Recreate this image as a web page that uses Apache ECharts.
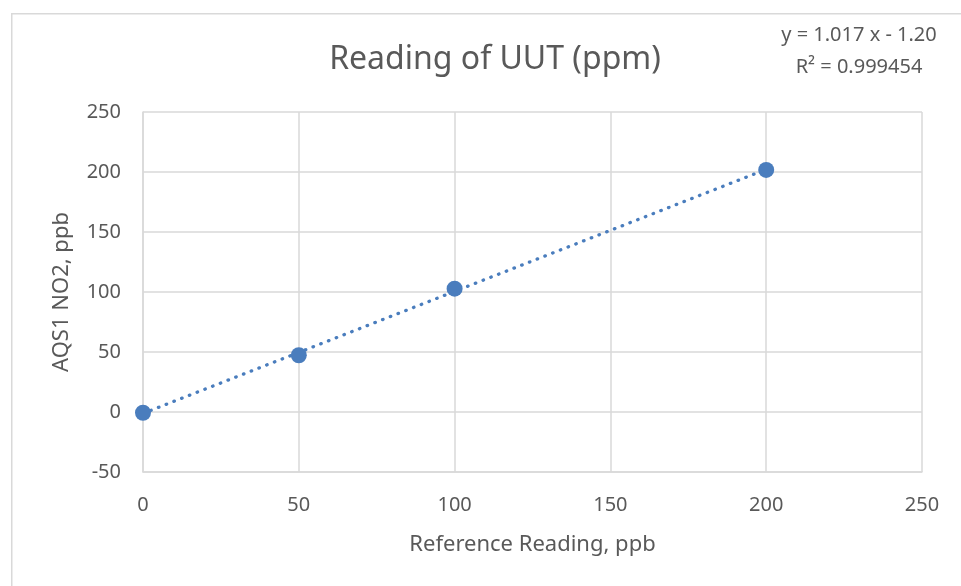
<!DOCTYPE html>
<html>
<head>
<meta charset="utf-8">
<script src="https://cdn.jsdelivr.net/npm/echarts@6/dist/echarts.min.js"></script>
<style>
html,body{margin:0;padding:0;background:#fff;}
#chart{width:961px;height:586px;}
</style>
</head>
<body>
<div id="chart"></div>
<script>
// ---- data ----
const referenceReading = [0, 50, 100, 200];      // x, ppb
const uutReading = [-0.6, 47.3, 102.8, 201.7];  // y, ppb
const trendSlope = 1.017;
const trendIntercept = -1.20;
const trendXRange = [0, 200];
const trendLabel = ['y = 1.017 x - 1.20', 'R² = 0.999454'];
const titleText = 'Reading of UUT (ppm)';
const xAxisName = 'Reference Reading, ppb';
const yAxisName = 'AQS1 NO2, ppb';

const FONT = "'Noto Sans', 'Open Sans', sans-serif";
const TEXT = '#595959';
const GRID = '#d9d9d9';
const BLUE = '#4a7dbd';

const points = referenceReading.map((x, i) => [x, uutReading[i]]);
const trendPts = trendXRange.map(x => [x, trendSlope * x + trendIntercept]);

const chart = echarts.init(document.getElementById('chart'));
chart.setOption({
  backgroundColor: '#fff',
  animation: false,
  textStyle: { fontFamily: FONT },
  graphic: [{
    type: 'rect', left: 11, top: 13, z: -10, silent: true,
    shape: { x: 0, y: 0, width: 1000, height: 700 },
    style: { fill: '#fff', stroke: GRID, lineWidth: 1.5 }
  }],
  title: [{
    text: titleText, left: 490, top: 39, textAlign: 'center',
    textStyle: { fontFamily: FONT, fontSize: 32, fontWeight: 'normal', color: TEXT }
  }, {
    text: trendLabel.join('\n'), left: 854, top: 14, textAlign: 'center',
    textStyle: { fontFamily: FONT, fontSize: 20, fontWeight: 'normal', color: TEXT, lineHeight: 32 }
  }],
  grid: { left: 143, right: 39, top: 112, bottom: 114, containLabel: false },
  xAxis: {
    type: 'value', min: 0, max: 250, interval: 50,
    name: xAxisName, nameLocation: 'middle', nameGap: 62,
    nameTextStyle: { fontFamily: FONT, fontSize: 22, color: TEXT },
    axisLine: { show: true, onZero: false, lineStyle: { color: GRID, width: 1.5 } },
    axisTick: { show: false },
    axisLabel: { margin: 23, fontFamily: FONT, fontSize: 20, color: TEXT },
    splitLine: { show: true, lineStyle: { color: GRID, width: 1.5 } }
  },
  yAxis: {
    type: 'value', min: -50, max: 250, interval: 50,
    name: yAxisName, nameLocation: 'middle', nameGap: 70,
    nameTextStyle: { fontFamily: FONT, fontSize: 22, color: TEXT },
    axisLine: { show: true, onZero: false, lineStyle: { color: GRID, width: 1.5 } },
    axisTick: { show: false },
    axisLabel: { margin: 22, fontFamily: FONT, fontSize: 20, color: TEXT },
    splitLine: { show: true, lineStyle: { color: GRID, width: 1.5 } }
  },
  series: [{
    type: 'line', data: trendPts, symbol: 'none', z: 2,
    lineStyle: { color: BLUE, width: 3.3, type: [0.5, 7.8], cap: 'round' }
  }, {
    type: 'scatter', data: points, symbol: 'circle', symbolSize: 16, z: 3,
    itemStyle: { color: BLUE, opacity: 1 }
  }]
});
</script>
</body>
</html>
